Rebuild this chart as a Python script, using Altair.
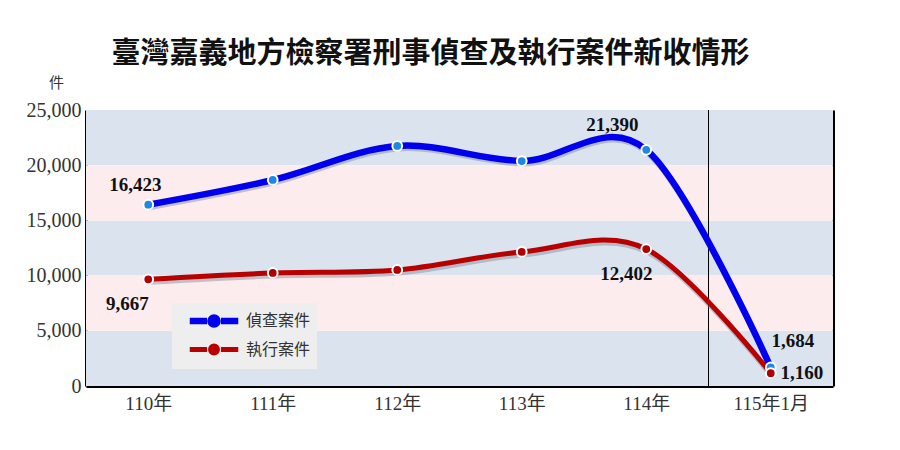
import altair as alt
import pandas as pd

# ---- data ----
years = ["110年", "111年", "112年", "113年", "114年", "115年1月"]
series_names = ["偵查案件", "執行案件"]
investigation = [16423, 18660, 21740, 20380, 21390, 1684]
execution = [9667, 10240, 10510, 12140, 12402, 1160]
y_ticks = [0, 5000, 10000, 15000, 20000, 25000]
blue_band_lo = [0, 10000, 20000]
blue_band_hi = [5000, 15000, 25000]
pink_band_lo = [5000, 15000]
pink_band_hi = [10000, 20000]
separator_at = [4.5]

rows = []
for i, (yr, v) in enumerate(zip(years, investigation)):
    rows.append({"i": i, "year": yr, "series": series_names[0], "value": v})
for i, (yr, v) in enumerate(zip(years, execution)):
    rows.append({"i": i, "year": yr, "series": series_names[1], "value": v})
df = pd.DataFrame(rows)

W, H = 747, 276
xscale = alt.Scale(domain=[-0.5, 5.5], nice=False, zero=False)
yscale = alt.Scale(domain=[0, 25000], nice=False)
label_expr = "[" + ",".join(f"'{y}'" for y in years) + "][datum.value]"

xaxis = alt.Axis(values=list(range(len(years))), labelExpr=label_expr, title=None,
                 grid=False, ticks=False, domainColor="black", domainWidth=3,
                 labelFont="Liberation Serif, Noto Sans CJK TC", labelFontSize=19,
                 labelColor="#333333", labelPadding=8)
yaxis = alt.Axis(values=y_ticks, format=",.0f", title="件", titleAngle=0, titleX=-30, titleY=-28,
                 titleFont="Noto Sans CJK TC", titleFontSize=15, titleFontWeight="normal",
                 titleColor="#333333", titleAlign="center", titleBaseline="middle",
                 grid=False, ticks=False, domainColor="black", domainWidth=3,
                 labelFont="Liberation Serif", labelFontSize=20, labelColor="#333333",
                 labelPadding=5)
right_axis = alt.Axis(orient="right", labels=False, ticks=False, title=None, grid=False,
                      domainColor="black", domainWidth=3)


def bands(lo, hi, color, axis):
    d = pd.DataFrame({"lo": lo, "hi": hi})
    return alt.Chart(d).mark_rect(color=color).encode(
        x=alt.XDatum(-0.5, scale=xscale, axis=None),
        x2=alt.X2Datum(5.5),
        y=alt.Y("lo:Q", scale=yscale, axis=axis),
        y2="hi:Q",
    )


blue_bands = bands(blue_band_lo, blue_band_hi, "#dae3ee", right_axis)
pink_bands = bands(pink_band_lo, pink_band_hi, "#fdeced", None)

sep = alt.Chart(pd.DataFrame({"x": separator_at})).mark_rule(color="black", strokeWidth=1).encode(
    x=alt.X("x:Q", scale=xscale, axis=None)
)

# line with a dot in the middle (path units are scaled by sqrt(size)/2)
legend_symbol = ("M-2.8,0L-0.8,0M0.8,0L2.8,0"
                 "M-0.4,0A0.4,0.4,0,1,0,0.4,0A0.4,0.4,0,1,0,-0.4,0")

shadow = alt.Chart(df).mark_line(interpolate="cardinal", strokeCap="round", color="#7f8796",
                                 opacity=0.45, strokeWidth=6, yOffset=2.5, xOffset=1).encode(
    x=alt.X("i:Q", scale=xscale, axis=None),
    y=alt.Y("value:Q", scale=yscale, axis=None),
    detail="series:N",
)

lines = alt.Chart(df).mark_line(interpolate="cardinal", strokeCap="round").encode(
    x=alt.X("i:Q", scale=xscale, axis=xaxis),
    y=alt.Y("value:Q", scale=yscale, axis=yaxis),
    color=alt.Color("series:N",
                    scale=alt.Scale(domain=series_names, range=["#0000ee", "#b80000"]),
                    legend=alt.Legend(title=None, orient="none", legendX=86, legendY=193,
                                      fillColor="#eeeeee", padding=6, rowPadding=-8,
                                      symbolType=legend_symbol, symbolSize=300,
                                      symbolStrokeWidth=6, symbolOffset=24,
                                      labelOffset=20,
                                      labelFont="Noto Sans CJK TC", labelFontSize=16,
                                      labelColor="#333333")),
    strokeWidth=alt.StrokeWidth("series:N", scale=alt.Scale(domain=series_names, range=[6.5, 5]),
                                legend=None),
)

points = alt.Chart(df).mark_point(filled=True, size=95, stroke="white", strokeWidth=2,
                                  opacity=1).encode(
    x=alt.X("i:Q", scale=xscale, axis=None),
    y=alt.Y("value:Q", scale=yscale, axis=None),
    fill=alt.Fill("series:N", scale=alt.Scale(domain=series_names, range=["#1e88e5", "#b00000"]),
                  legend=None),
)


def label(series, idx, dx, dy):
    return alt.Chart(df).transform_filter(
        (alt.datum.series == series) & (alt.datum.i == idx)
    ).mark_text(dx=dx, dy=dy, font="Liberation Serif", fontSize=19, fontWeight="bold",
                color="#111111").encode(
        x=alt.X("i:Q", scale=xscale, axis=None),
        y=alt.Y("value:Q", scale=yscale, axis=None),
        text=alt.Text("value:Q", format=","),
    )


labels = [
    label(series_names[0], 0, -13, -20),
    label(series_names[0], 4, -34, -25),
    label(series_names[0], 5, 22, -26),
    label(series_names[1], 0, -21, 25),
    label(series_names[1], 4, -20, 25),
    label(series_names[1], 5, 31, 0),
]

chart = alt.layer(blue_bands, pink_bands, sep, shadow, lines, points, *labels).resolve_axis(
    x="independent", y="independent"
).properties(
    width=W, height=H,
    padding={"left": 78, "top": 102, "right": 59, "bottom": 56},
    autosize=alt.AutoSizeParams(type="none"),
    title=alt.Title(text="臺灣嘉義地方檢察署刑事偵查及執行案件新收情形",
                    font="Noto Sans CJK TC", fontSize=29, fontWeight="bold",
                    color="#111111", anchor="middle", offset=6, dx=-29),
).configure_view(stroke=None).configure(background="white")

chart.save("out.html", embed_options={"renderer": "svg", "actions": False})
